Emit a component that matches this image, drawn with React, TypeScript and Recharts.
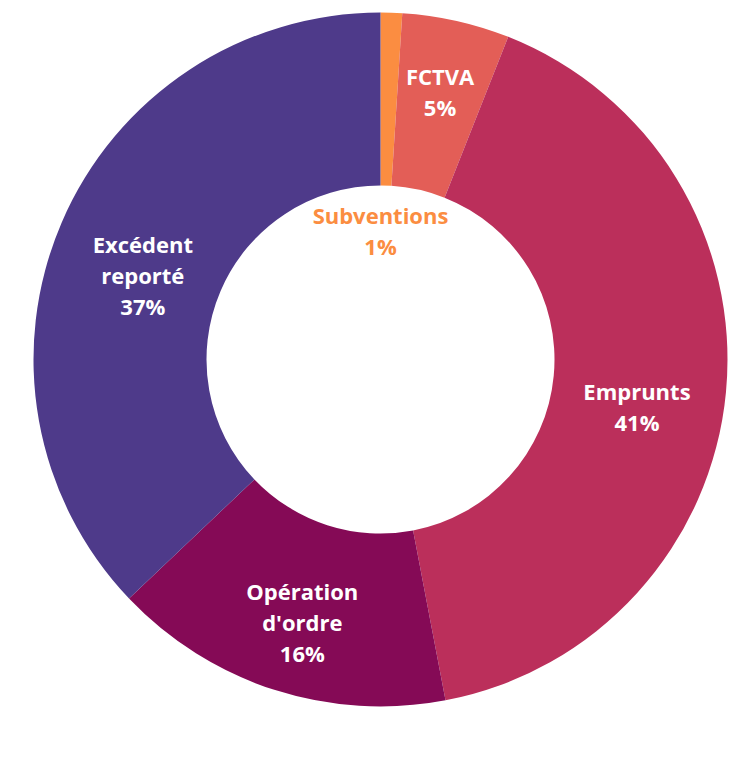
import React from "react";
import { PieChart, Pie, Cell } from "recharts";

const categories = ["Subventions", "FCTVA", "Emprunts", "Opération d'ordre", "Excédent reporté"];
const values = [1.0, 5.0, 41.0, 15.9, 37.1];
const colors = ["#fb8d41", "#e35e57", "#bb2f5b", "#850a56", "#4e3a8a"];
const labelLines = [["Subventions"], ["FCTVA"], ["Emprunts"], ["Opération", "d'ordre"], ["Excédent", "reporté"]];

const data = categories.map((name, i) => ({ name, value: values[i] }));

// label placement (layout): radius and angular nudge (deg, clockwise) per slice
const labelLayout = [
  { r: 128, nudge: -1.8, color: "#fb8d41" },
  { r: 273, nudge: 0, color: "#ffffff" },
  { r: 261, nudge: 5.3, color: "#ffffff" },
  { r: 275, nudge: -1.3, color: "#ffffff" },
  { r: 252, nudge: -3.8, color: "#ffffff" },
];

const LINE_H = 31;
const FONT = 22;

const renderLabel = (props: any) => {
  const { cx, cy, midAngle, percent, index } = props;
  const lay = labelLayout[index];
  const theta = ((90 - midAngle + lay.nudge) * Math.PI) / 180;
  const x = cx + lay.r * Math.sin(theta);
  const y = cy - lay.r * Math.cos(theta);
  const lines = [...labelLines[index], `${Math.round(percent * 100)}%`];
  const n = lines.length;
  const firstBaseline = y - ((n - 1) * LINE_H) / 2 + FONT * 0.357;
  return (
    <text
      key={`lbl-${index}`}
      textAnchor="middle"
      fill={lay.color}
      fontFamily="'Open Sans', sans-serif"
      fontWeight={700}
      fontSize={FONT}
    >
      {lines.map((l, i) => (
        <tspan key={i} x={x} y={firstBaseline + i * LINE_H}>
          {l}
        </tspan>
      ))}
    </text>
  );
};

export default function App() {
  return (
    <div style={{ width: 724, height: 756 }}>
      <PieChart width={724} height={756} margin={{ top: 0, right: 0, bottom: 0, left: 0 }}>
        <Pie
          data={data}
          dataKey="value"
          nameKey="name"
          cx={372.5}
          cy={351.5}
          innerRadius={174}
          outerRadius={347}
          startAngle={90}
          endAngle={-270}
          stroke="none"
          labelLine={false}
          label={renderLabel}
          isAnimationActive={false}
        >
          {data.map((d, i) => (
            <Cell key={d.name} fill={colors[i]} />
          ))}
        </Pie>
      </PieChart>
    </div>
  );
}
